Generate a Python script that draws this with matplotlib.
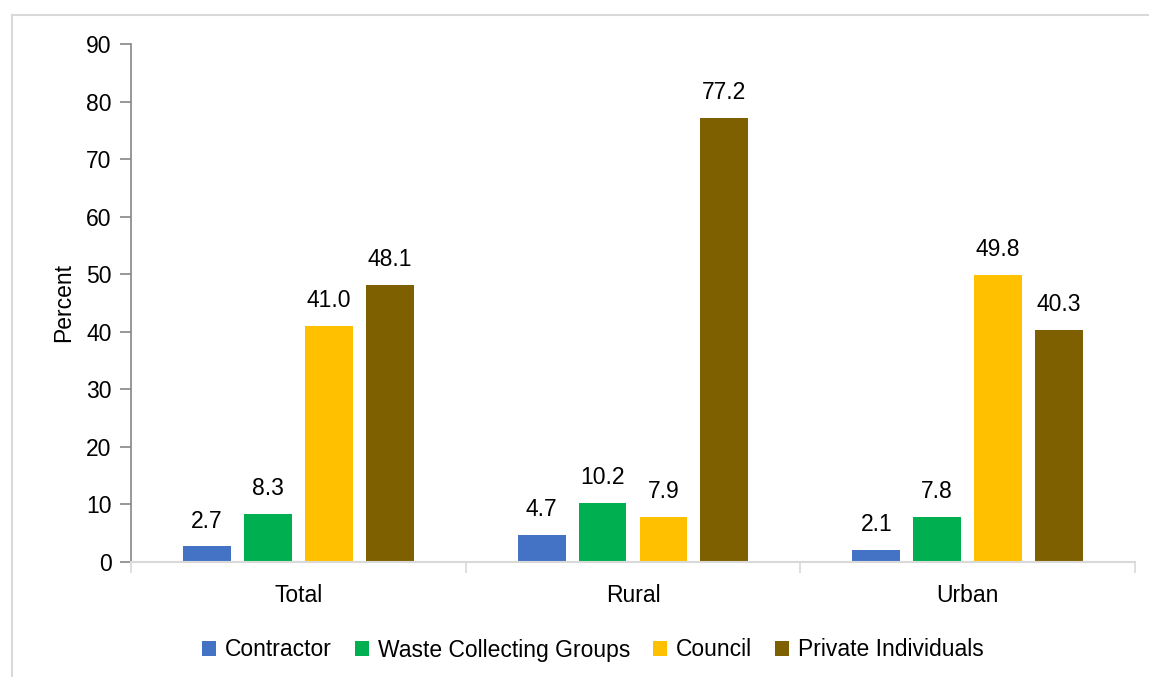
import matplotlib
matplotlib.use("Agg")
import matplotlib.pyplot as plt
from matplotlib.lines import Line2D
import numpy as np

plt.rcParams['font.family'] = ['Liberation Sans', 'DejaVu Sans']

categories = ["Total", "Rural", "Urban"]
series_names = ["Contractor", "Waste Collecting Groups", "Council", "Private Individuals"]
contractor = [2.7, 4.7, 2.1]
waste_groups = [8.3, 10.2, 7.8]
council = [41.0, 7.9, 49.8]
private = [48.1, 77.2, 40.3]
colors = ["#4472C4", "#00B050", "#FFC000", "#7F6000"]
yticks = [0, 10, 20, 30, 40, 50, 60, 70, 80, 90]

W, H = 1149, 677
fig = plt.figure(figsize=(W / 100, H / 100), dpi=100)
ax = fig.add_axes([131 / W, 1 - 562 / H, (1135 - 131) / W, (562 - 44) / H])

# border
fig.add_artist(Line2D([12 / W, 1.0], [1 - 15 / H, 1 - 15 / H], color="#D9D9D9", lw=1.5, transform=fig.transFigure))
fig.add_artist(Line2D([12 / W, 12 / W], [1 - 15 / H, 0], color="#D9D9D9", lw=1.5, transform=fig.transFigure))

x = np.arange(len(categories))
bw = 0.143
step = 0.182
all_series = [contractor, waste_groups, council, private]
fs = 16.5
for i, (vals, col, name) in enumerate(zip(all_series, colors, series_names)):
    pos = x + (i - 1.5) * step
    bars = ax.bar(pos, vals, width=bw, color=col, label=name, zorder=2)
    for b, v in zip(bars, vals):
        ax.annotate(f"{v:.1f}", (b.get_x() + b.get_width() / 2, v), xytext=(0, 10),
                    textcoords="offset points", ha="center", va="bottom", fontsize=fs)

ax.set_xlim(-0.5, 2.5)
ax.set_ylim(0, 90)
ax.set_yticks(yticks)
ax.set_xticks(x)
ax.set_xticklabels(categories)
ax.set_xticks([-0.5, 0.5, 1.5, 2.5], minor=True)
ax.tick_params(axis='x', which='major', length=0, pad=16, labelsize=fs)
ax.tick_params(axis='x', which='minor', length=8, color="#D9D9D9", width=1.2)
ax.tick_params(axis='y', length=8, color="#868686", width=1.2, labelsize=fs, pad=6)
for s in ["top", "right"]:
    ax.spines[s].set_visible(False)
ax.spines["left"].set_color("#868686")
ax.spines["left"].set_linewidth(1.2)
ax.spines["bottom"].set_color("#D9D9D9")
ax.spines["bottom"].set_linewidth(1.5)
ax.set_ylabel("Percent", fontsize=fs, labelpad=8)

fig.legend(loc="center", bbox_to_anchor=(593 / W, 1 - 650 / H), ncol=4, frameon=False,
           fontsize=fs, handlelength=0.6, handleheight=0.6, handletextpad=0.4,
           columnspacing=1.0)

fig.savefig("out.png", dpi=100)
